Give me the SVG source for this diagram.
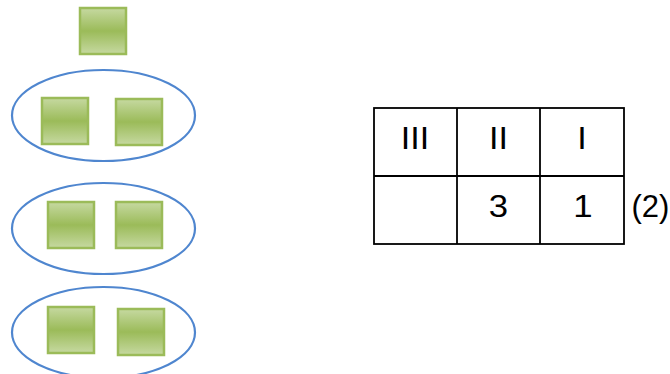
<svg xmlns="http://www.w3.org/2000/svg" width="670" height="374" viewBox="0 0 670 374">
<defs>
<linearGradient id="g" x1="0" y1="0" x2="0" y2="1">
<stop offset="0" stop-color="#c6d9a1"/>
<stop offset="0.5" stop-color="#9bbb59"/>
<stop offset="1" stop-color="#c6d9a1"/>
</linearGradient>
</defs>
<style>
.sq{fill:url(#g);stroke:#9bbb59;stroke-width:2.5}
.el{fill:none;stroke:#4f86cf;stroke-width:2.2}
.cell{fill:none;stroke:#000;stroke-width:1.8}
.t{font-family:"Liberation Sans",Arial,sans-serif;fill:#000;text-anchor:middle;font-size:31px}
</style>
<g id="single">
<rect class="sq" x="80" y="8" width="46" height="46"/>
</g>
<g id="pair1">
<ellipse class="el" cx="103.5" cy="115.5" rx="91.5" ry="45.5"/>
<rect class="sq" x="42" y="98" width="46" height="46"/>
<rect class="sq" x="116" y="99" width="46" height="46"/>
</g>
<g id="pair2">
<ellipse class="el" cx="103.5" cy="228.5" rx="91.5" ry="45.5"/>
<rect class="sq" x="48" y="202" width="46" height="46"/>
<rect class="sq" x="116" y="202" width="46" height="46"/>
</g>
<g id="pair3">
<ellipse class="el" cx="103.5" cy="332.5" rx="91.5" ry="45.5"/>
<rect class="sq" x="48" y="307" width="46" height="46"/>
<rect class="sq" x="118" y="309" width="46" height="46"/>
</g>
<g id="table">
<rect class="cell" x="374" y="108" width="250" height="136"/>
<line class="cell" x1="374" y1="176" x2="624" y2="176"/>
<line class="cell" x1="457" y1="108" x2="457" y2="244"/>
<line class="cell" x1="540" y1="108" x2="540" y2="244"/>
<text class="t" x="415" y="149" transform="translate(415 0) scale(1.1 1) translate(-415 0)">III</text>
<text class="t" x="498.5" y="149" transform="translate(498.5 0) scale(1.1 1) translate(-498.5 0)">II</text>
<text class="t" x="582" y="149" transform="translate(582 0) scale(1.1 1) translate(-582 0)">I</text>
<text class="t" x="498.5" y="217" transform="translate(498.5 0) scale(1.12 1) translate(-498.5 0)">3</text>
<text class="t" x="583" y="217" transform="translate(583 0) scale(1.12 1) translate(-583 0)">1</text>
<text class="t" x="650.5" y="217">(2)</text>
</g>
</svg>
